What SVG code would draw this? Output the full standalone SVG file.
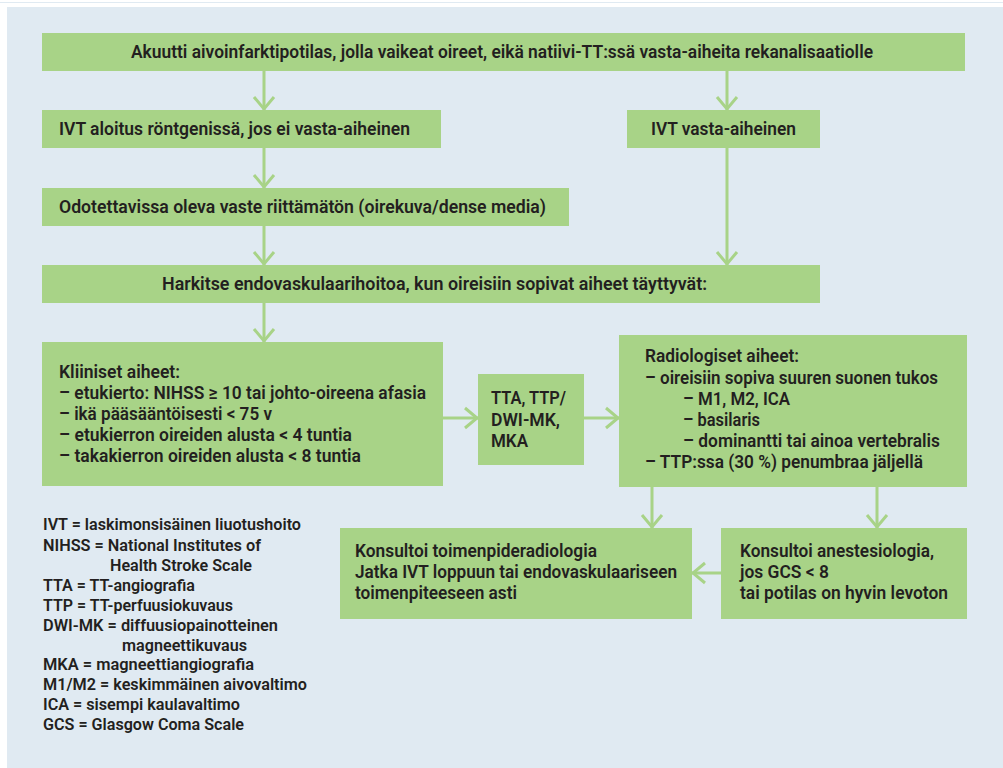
<svg xmlns="http://www.w3.org/2000/svg" width="1003" height="768" viewBox="0 0 1003 768">
<style>
.bg{fill:#e0eaf2}
.box{fill:#a8d387}
.t{font-family:Roboto,"Liberation Sans",sans-serif;font-size:19px;font-weight:600;fill:#231f20}
.l{font-family:Roboto,"Liberation Sans",sans-serif;font-size:16px;font-weight:600;fill:#231f20}
.c{stroke:#a8d387;stroke-width:3;fill:none}
</style>
<defs>
<marker id="ah" markerUnits="userSpaceOnUse" markerWidth="30" markerHeight="30" viewBox="-20 -15 30 30" refX="0" refY="0" orient="auto">
<path d="M-13,-10 L-1,0 L-13,10" fill="none" stroke="#a8d387" stroke-width="3"/>
</marker>
</defs>
<rect x="0" y="0" width="1003" height="768" fill="#ffffff"/>
<rect x="0" y="2" width="1003" height="1" class="bg"/>
<rect x="7" y="7" width="996" height="761" class="bg"/>

<g id="connectors">
<line class="c" x1="264" y1="71" x2="264" y2="110" marker-end="url(#ah)"/>
<line class="c" x1="727" y1="71" x2="727" y2="110" marker-end="url(#ah)"/>
<line class="c" x1="264" y1="148" x2="264" y2="188" marker-end="url(#ah)"/>
<line class="c" x1="264" y1="226" x2="264" y2="265" marker-end="url(#ah)"/>
<line class="c" x1="727" y1="148" x2="727" y2="265" marker-end="url(#ah)"/>
<line class="c" x1="264" y1="303" x2="264" y2="342" marker-end="url(#ah)"/>
<line class="c" x1="443" y1="418" x2="478" y2="418" marker-end="url(#ah)"/>
<line class="c" x1="584" y1="418" x2="619" y2="418" marker-end="url(#ah)"/>
<line class="c" x1="652" y1="487" x2="652" y2="528" marker-end="url(#ah)"/>
<line class="c" x1="877" y1="487" x2="877" y2="528" marker-end="url(#ah)"/>
<line class="c" x1="721" y1="573" x2="692" y2="573" marker-end="url(#ah)"/>
</g>

<g id="n-start">
<rect class="box" x="42" y="33" width="923" height="38"/>
<text class="t" x="131" y="58" textLength="742" lengthAdjust="spacingAndGlyphs">Akuutti aivoinfarktipotilas, jolla vaikeat oireet, eikä natiivi-TT:ssä vasta-aiheita rekanalisaatiolle</text>
</g>

<g id="n-ivt">
<rect class="box" x="42" y="110" width="399" height="38"/>
<text class="t" x="59" y="135" textLength="351" lengthAdjust="spacingAndGlyphs">IVT aloitus röntgenissä, jos ei vasta-aiheinen</text>
</g>

<g id="n-ivt-contra">
<rect class="box" x="627" y="110" width="193" height="38"/>
<text class="t" x="651" y="135" textLength="145" lengthAdjust="spacingAndGlyphs">IVT vasta-aiheinen</text>
</g>

<g id="n-response">
<rect class="box" x="42" y="188" width="527" height="38"/>
<text class="t" x="59" y="213" textLength="487" lengthAdjust="spacingAndGlyphs">Odotettavissa oleva vaste riittämätön (oirekuva/dense media)</text>
</g>

<g id="n-consider">
<rect class="box" x="42" y="265" width="778" height="38"/>
<text class="t" x="162" y="290" textLength="545" lengthAdjust="spacingAndGlyphs">Harkitse endovaskulaarihoitoa, kun oireisiin sopivat aiheet täyttyvät:</text>
</g>

<g id="n-clinical">
<rect class="box" x="42" y="342" width="401" height="144"/>
<text class="t" x="59" y="378" textLength="121" lengthAdjust="spacingAndGlyphs">Kliiniset aiheet:</text>
<text class="t" x="59" y="399" textLength="367" lengthAdjust="spacingAndGlyphs">– etukierto: NIHSS ≥ 10 tai johto-oireena afasia</text>
<text class="t" x="59" y="420" textLength="213" lengthAdjust="spacingAndGlyphs">– ikä pääsääntöisesti &lt; 75 v</text>
<text class="t" x="59" y="441" textLength="293" lengthAdjust="spacingAndGlyphs">– etukierron oireiden alusta &lt; 4 tuntia</text>
<text class="t" x="59" y="462" textLength="302" lengthAdjust="spacingAndGlyphs">– takakierron oireiden alusta &lt; 8 tuntia</text>
</g>

<g id="n-imaging">
<rect class="box" x="478" y="374" width="106" height="91"/>
<text class="t" x="491" y="404" textLength="75" lengthAdjust="spacingAndGlyphs">TTA, TTP/</text>
<text class="t" x="491" y="425.5" textLength="69" lengthAdjust="spacingAndGlyphs">DWI-MK,</text>
<text class="t" x="491" y="447" textLength="37" lengthAdjust="spacingAndGlyphs">MKA</text>
</g>

<g id="n-radiological">
<rect class="box" x="619" y="335" width="348" height="152"/>
<text class="t" x="645" y="362" textLength="154" lengthAdjust="spacingAndGlyphs">Radiologiset aiheet:</text>
<text class="t" x="645" y="384" textLength="293" lengthAdjust="spacingAndGlyphs">– oireisiin sopiva suuren suonen tukos</text>
<text class="t" x="683" y="405" textLength="107" lengthAdjust="spacingAndGlyphs">– M1, M2, ICA</text>
<text class="t" x="683" y="426" textLength="77" lengthAdjust="spacingAndGlyphs">– basilaris</text>
<text class="t" x="683" y="447" textLength="257" lengthAdjust="spacingAndGlyphs">– dominantti tai ainoa vertebralis</text>
<text class="t" x="645" y="468" textLength="278" lengthAdjust="spacingAndGlyphs">– TTP:ssa (30 %) penumbraa jäljellä</text>
</g>

<g id="n-interventional">
<rect class="box" x="340" y="528" width="352" height="91"/>
<text class="t" x="355" y="557" textLength="242" lengthAdjust="spacingAndGlyphs">Konsultoi toimenpideradiologia</text>
<text class="t" x="355" y="578" textLength="322" lengthAdjust="spacingAndGlyphs">Jatka IVT loppuun tai endovaskulaariseen</text>
<text class="t" x="355" y="599" textLength="162" lengthAdjust="spacingAndGlyphs">toimenpiteeseen asti</text>
</g>

<g id="n-anesthesia">
<rect class="box" x="721" y="528" width="246" height="91"/>
<text class="t" x="740" y="557" textLength="194" lengthAdjust="spacingAndGlyphs">Konsultoi anestesiologia,</text>
<text class="t" x="740" y="578" textLength="89" lengthAdjust="spacingAndGlyphs">jos GCS &lt; 8</text>
<text class="t" x="740" y="599" textLength="208" lengthAdjust="spacingAndGlyphs">tai potilas on hyvin levoton</text>
</g>

<g id="legend">
<text class="l" x="43" y="530" textLength="258" lengthAdjust="spacingAndGlyphs">IVT = laskimonsisäinen liuotushoito</text>
<text class="l" x="43" y="551" textLength="218" lengthAdjust="spacingAndGlyphs">NIHSS = National Institutes of</text>
<text class="l" x="110" y="571" textLength="142" lengthAdjust="spacingAndGlyphs">Health Stroke Scale</text>
<text class="l" x="43" y="591" textLength="152" lengthAdjust="spacingAndGlyphs">TTA = TT-angiografia</text>
<text class="l" x="43" y="611" textLength="190" lengthAdjust="spacingAndGlyphs">TTP = TT-perfuusiokuvaus</text>
<text class="l" x="43" y="631" textLength="235" lengthAdjust="spacingAndGlyphs">DWI-MK = diffuusiopainotteinen</text>
<text class="l" x="122" y="651" textLength="125" lengthAdjust="spacingAndGlyphs">magneettikuvaus</text>
<text class="l" x="43" y="670" textLength="211" lengthAdjust="spacingAndGlyphs">MKA = magneettiangiografia</text>
<text class="l" x="43" y="690" textLength="264" lengthAdjust="spacingAndGlyphs">M1/M2 = keskimmäinen aivovaltimo</text>
<text class="l" x="43" y="710" textLength="197" lengthAdjust="spacingAndGlyphs">ICA = sisempi kaulavaltimo</text>
<text class="l" x="43" y="730" textLength="201" lengthAdjust="spacingAndGlyphs">GCS = Glasgow Coma Scale</text>
</g>
</svg>
